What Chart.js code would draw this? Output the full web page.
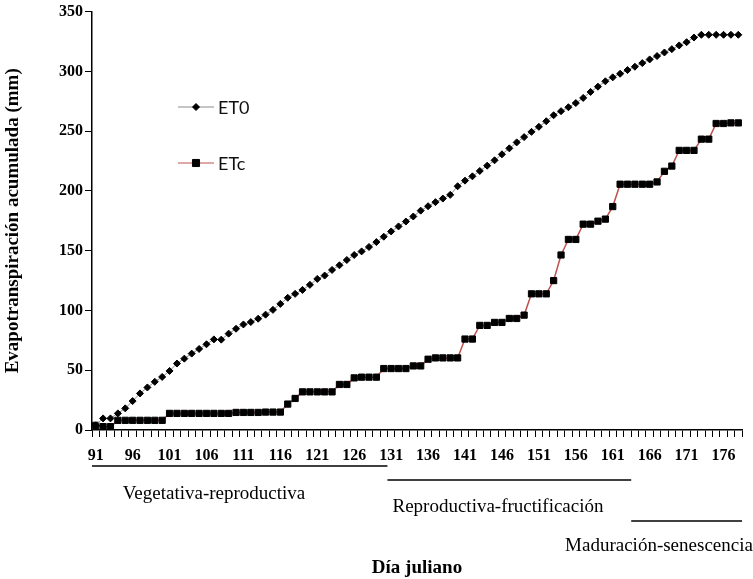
<!DOCTYPE html>
<html>
<head>
<meta charset="utf-8">
<script src="https://cdn.jsdelivr.net/npm/chart.js@4.4.1/dist/chart.umd.min.js"></script>
<style>
  html, body { margin: 0; padding: 0; background: #fff; }
  canvas { display: block; }
</style>
</head>
<body>
<canvas id="chart" width="753" height="579"></canvas>
<script>
// Julian days 91..178
const days = [
  91, 92, 93, 94, 95, 96, 97, 98, 99, 100,
  101, 102, 103, 104, 105, 106, 107, 108, 109, 110,
  111, 112, 113, 114, 115, 116, 117, 118, 119, 120,
  121, 122, 123, 124, 125, 126, 127, 128, 129, 130,
  131, 132, 133, 134, 135, 136, 137, 138, 139, 140,
  141, 142, 143, 144, 145, 146, 147, 148, 149, 150,
  151, 152, 153, 154, 155, 156, 157, 158, 159, 160,
  161, 162, 163, 164, 165, 166, 167, 168, 169, 170,
  171, 172, 173, 174, 175, 176, 177, 178
];

// accumulated ET0 (mm)
const et0 = [
  3.9, 9.7, 9.7, 13.9, 18.1, 24.2, 30.6, 35.6, 40.3, 44.4,
  49.4, 55.6, 59.7, 63.9, 67.8, 71.7, 75.8, 75.6, 80.6, 84.7,
  88.3, 90.3, 93.1, 96.5, 100.5, 105.5, 110.6, 113.9, 117.2, 121.4,
  126.4, 129.2, 133.9, 137.8, 142.2, 146.4, 149.4, 153.1, 157.2, 161.7,
  166.1, 170.3, 174.4, 178.6, 183.5, 187.2, 190.6, 193.6, 196.7, 203.9,
  208.6, 212.2, 216.7, 221.1, 225.6, 230.6, 235.6, 240.6, 245.0, 249.4,
  253.6, 258.3, 263.3, 266.7, 270.0, 273.5, 277.8, 282.8, 287.2, 291.7,
  295.0, 298.0, 301.1, 303.9, 306.9, 310.0, 312.8, 315.8, 318.6, 321.7,
  324.4, 328.3, 330.6, 330.6, 330.6, 330.6, 330.6, 330.6
];

// accumulated ETc (mm)
const etc = [
  3.9, 2.8, 2.8, 8.1, 8.1, 8.1, 8.1, 8.1, 8.1, 8.1,
  13.9, 13.9, 13.9, 13.9, 13.9, 13.9, 13.9, 13.9, 13.9, 14.7,
  14.7, 14.7, 14.7, 15.0, 15.0, 15.0, 21.7, 26.4, 31.9, 31.9,
  31.9, 31.9, 31.9, 38.1, 38.1, 43.6, 44.2, 44.2, 44.2, 51.4,
  51.4, 51.4, 51.4, 53.6, 53.6, 59.2, 60.3, 60.3, 60.3, 60.3,
  76.1, 76.1, 87.5, 87.5, 90.0, 90.0, 93.3, 93.3, 96.1, 113.9,
  113.9, 113.9, 125.0, 146.4, 159.4, 159.4, 172.2, 172.2, 174.7, 176.4,
  186.9, 205.6, 205.6, 205.6, 205.6, 205.6, 207.5, 216.4, 220.8, 233.9,
  233.9, 233.9, 243.3, 243.3, 256.4, 256.4, 256.9, 256.9
];

const yTicks = [0, 50, 100, 150, 200, 250, 300, 350];

// crop phases (start day, end day)
const phaseNames = ['Vegetativa-reproductiva', 'Reproductiva-fructificación', 'Maduración-senescencia'];
const phaseStart = [91, 131, 164];
const phaseEnd = [131, 164, 179];

const serif = '"Liberation Serif", "Times New Roman", serif';

// legend inside the plot + phase bars under the axis
const notes = {
  id: 'notes',
  afterDraw(chart) {
    const ctx = chart.ctx;
    const x = chart.scales.x;
    const edge = d => x.getPixelForValue(d - days[0]) - (x.getPixelForValue(1) - x.getPixelForValue(0)) / 2;

    ctx.save();
    // phases
    const lineY = [466, 480, 521];
    const textX = [214, 498, 659];
    const textY = [494, 507, 546];
    ctx.strokeStyle = '#000';
    ctx.lineWidth = 1.5;
    ctx.fillStyle = '#000';
    ctx.font = '19px ' + serif;
    ctx.textAlign = 'center';
    ctx.textBaseline = 'middle';
    phaseNames.forEach((name, i) => {
      ctx.beginPath();
      ctx.moveTo(edge(phaseStart[i]), lineY[i]);
      ctx.lineTo(edge(phaseEnd[i]), lineY[i]);
      ctx.stroke();
      ctx.fillText(name, textX[i], textY[i]);
    });

    // legend
    const items = [
      { label: 'ET0', line: '#8c8c8c', y: 107, style: 'rectRot', r: 3.5 },
      { label: 'ETc', line: '#c0504d', y: 163, style: 'rect', r: 5 }
    ];
    ctx.font = '18px Lato, "Noto Sans", sans-serif';
    ctx.textAlign = 'left';
    items.forEach(it => {
      ctx.strokeStyle = it.line;
      ctx.lineWidth = 1.2;
      ctx.beginPath();
      ctx.moveTo(178, it.y);
      ctx.lineTo(214, it.y);
      ctx.stroke();
      ctx.fillStyle = '#000';
      ctx.strokeStyle = '#000';
      ctx.lineWidth = 1;
      Chart.helpers.drawPoint(ctx, { pointStyle: it.style, radius: it.r, rotation: 0, borderWidth: 1 }, 196, it.y);
      ctx.fillStyle = '#111';
      ctx.fillText(it.label, 218, it.y + 1);
    });
    ctx.restore();
  }
};

new Chart(document.getElementById('chart'), {
  type: 'line',
  data: {
    labels: days,
    datasets: [{
      label: 'ET0',
      data: et0,
      borderColor: '#8c8c8c',
      borderWidth: 1,
      pointStyle: 'rectRot',
      pointRadius: 3.5,
      pointBackgroundColor: '#000',
      pointBorderColor: '#000',
      pointBorderWidth: 1,
      tension: 0
    }, {
      label: 'ETc',
      data: etc,
      borderColor: '#c0504d',
      borderWidth: 1.5,
      pointStyle: 'rect',
      pointRadius: 4.4,
      pointBackgroundColor: '#000',
      pointBorderColor: '#000',
      pointBorderWidth: 1,
      tension: 0
    }]
  },
  options: {
    responsive: false,
    animation: false,
    devicePixelRatio: 1,
    layout: { padding: { top: 10, right: 11, left: 0, bottom: 0 } },
    plugins: {
      legend: { display: false },
      tooltip: { enabled: false }
    },
    scales: {
      x: {
        type: 'category',
        offset: true,
        afterFit: s => { s.height = 149; },
        grid: { offset: true, drawOnChartArea: false, tickLength: 7, color: '#000', tickWidth: 1 },
        border: { color: '#000', width: 1.5 },
        ticks: {
          autoSkip: false,
          maxRotation: 0,
          padding: 9,
          color: '#000',
          font: { family: serif, size: 16, weight: 'bold' },
          callback: (v, i) => (i % 5 === 0 ? days[i] : '')
        },
        title: {
          display: true,
          text: 'Día juliano',
          color: '#000',
          font: { family: serif, size: 19, weight: 'bold' },
          padding: { top: 0, bottom: 0 }
        }
      },
      y: {
        min: 0,
        max: 350,
        afterFit: s => { s.width = 92; },
        afterBuildTicks: s => { s.ticks = yTicks.map(v => ({ value: v })); },
        grid: { drawOnChartArea: false, tickLength: 7, color: '#000' },
        border: { color: '#000', width: 1.5 },
        ticks: {
          padding: 2,
          color: '#000',
          font: { family: serif, size: 16, weight: 'bold' }
        },
        title: {
          display: true,
          text: 'Evapotranspiración acumulada (mm)',
          color: '#000',
          font: { family: serif, size: 19, weight: 'bold' },
          padding: { top: 2, bottom: 0 }
        }
      }
    }
  },
  plugins: [notes]
});
</script>
</body>
</html>
